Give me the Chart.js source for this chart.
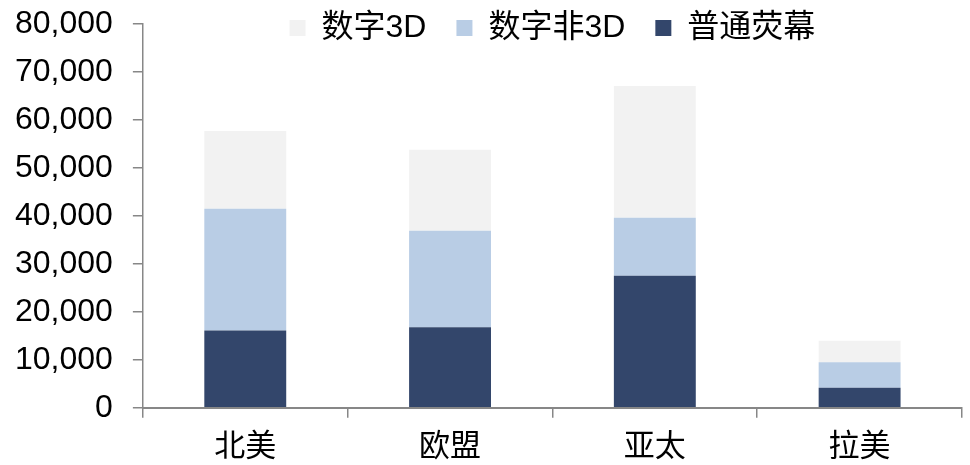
<!DOCTYPE html>
<html lang="zh-CN">
<head>
    <meta charset="UTF-8">
    <title>各地区荧幕数量</title>
    <style>
        body {
            margin: 0;
            padding: 0;
            background-color: #ffffff;
        }
        .container {
            width: 970px;
            height: 465px;
            position: relative;
        }
    </style>
</head>
<body>

    <div class="container">
        <canvas id="myChart"></canvas>
    </div>

    <script src="https://cdn.jsdelivr.net/npm/chart.js"></script>
    <script>
        // 地区
        const regions = ['北美', '欧盟', '亚太', '拉美'];

        // 各类荧幕数量
        const normalScreens = [16100, 16800, 27500, 4200];
        const digitalNon3D = [25400, 20100, 12100, 5300];
        const digital3D = [16200, 16900, 27500, 4500];

        // y 轴刻度
        const yMin = 0;
        const yMax = 80000;
        const yStep = 10000;

        const fontFamily = '"Liberation Sans", Arial, "Noto Sans CJK SC", sans-serif';
        const axisColor = '#878787';

        // 图例压在绘图区上方，只占 24px 的布局高度，绘制时再上移
        const legendOverlap = {
            id: 'legendOverlap',
            afterLayout(chart) {
                const lg = chart.legend;
                if (!lg) return;
                lg.top = -18;
                lg.bottom = 60;
                lg.height = lg.bottom - lg.top;
            }
        };

        const ctx = document.getElementById('myChart').getContext('2d');

        let myChart = new Chart(ctx, {
            type: 'bar',
            data: {
                labels: regions,
                datasets: [
                    {
                        label: '普通荧幕',
                        data: normalScreens,
                        backgroundColor: '#33466b',
                        borderWidth: 0
                    },
                    {
                        label: '数字非3D',
                        data: digitalNon3D,
                        backgroundColor: '#b9cde5',
                        borderWidth: 0
                    },
                    {
                        label: '数字3D',
                        data: digital3D,
                        backgroundColor: '#f2f2f2',
                        borderWidth: 0
                    }
                ]
            },
            plugins: [legendOverlap],
            options: {
                responsive: true,
                maintainAspectRatio: false,
                animation: false,
                layout: {
                    padding: { top: 0, left: -5, right: 8, bottom: -12 }
                },
                datasets: {
                    bar: {
                        categoryPercentage: 1,
                        barPercentage: 0.4
                    }
                },
                scales: {
                    x: {
                        stacked: true,
                        border: { color: axisColor, width: 2 },
                        grid: {
                            offset: true,
                            drawOnChartArea: false,
                            drawTicks: true,
                            tickLength: 10,
                            color: axisColor,
                            lineWidth: 1.5
                        },
                        ticks: {
                            padding: 11,
                            color: '#000',
                            font: { size: 31, family: fontFamily }
                        }
                    },
                    y: {
                        stacked: true,
                        min: yMin,
                        max: yMax,
                        border: { color: axisColor, width: 1.5 },
                        grid: {
                            drawOnChartArea: false,
                            drawTicks: true,
                            tickLength: 10,
                            color: axisColor,
                            lineWidth: 1.5
                        },
                        ticks: {
                            stepSize: yStep,
                            padding: 20,
                            color: '#000',
                            // 单行标签，行高只影响顶部留白
                            font: { size: 32, family: fontFamily, lineHeight: 0.25 },
                            callback: function(value) {
                                return Number(value).toLocaleString('en-US');
                            }
                        }
                    }
                },
                plugins: {
                    legend: {
                        position: 'top',
                        fullSize: false,
                        maxHeight: 24,
                        reverse: true,
                        labels: {
                            boxWidth: 16,
                            boxHeight: 16,
                            padding: 30,
                            color: '#000',
                            font: { size: 32, family: fontFamily }
                        }
                    },
                    tooltip: { enabled: false }
                }
            }
        });
    </script>
</body>
</html>
